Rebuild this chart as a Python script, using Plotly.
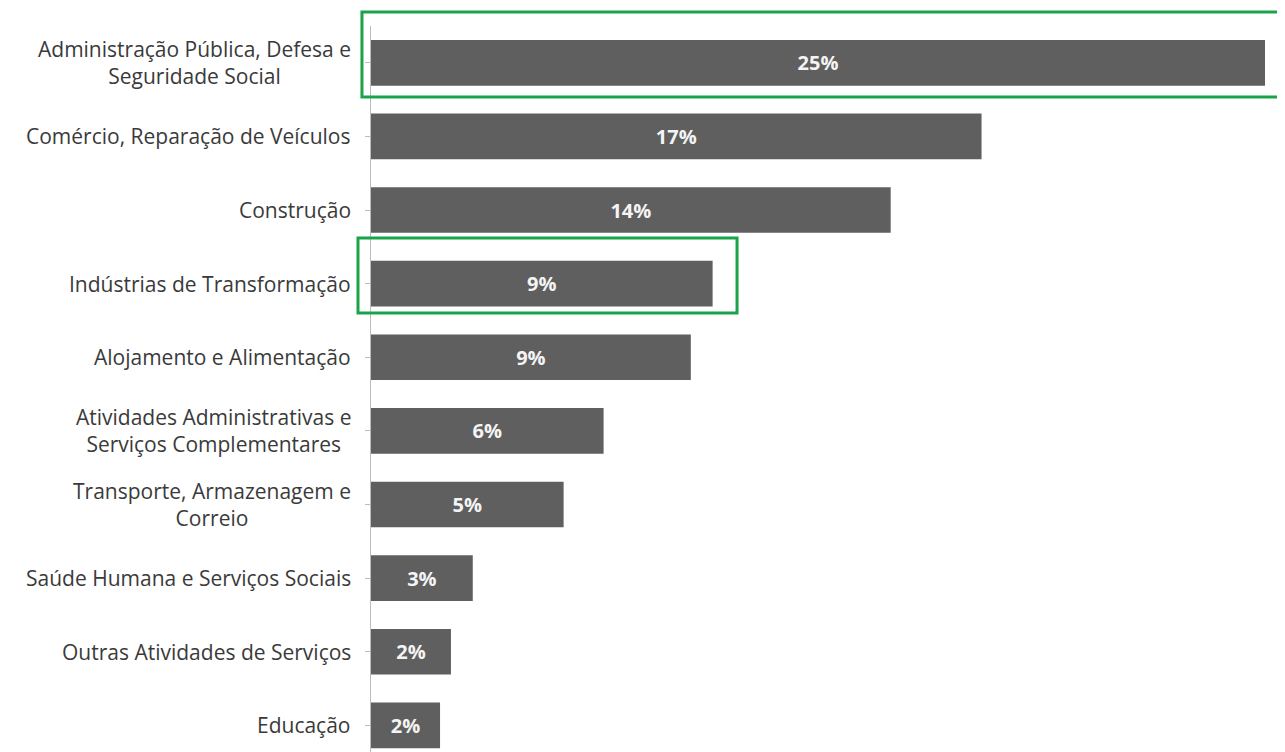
import plotly.graph_objects as go

categories = [
    "Administração Pública, Defesa e<br>Seguridade Social",
    "Comércio, Reparação de Veículos",
    "Construção",
    "Indústrias de Transformação",
    "Alojamento e Alimentação",
    "Atividades Administrativas e<br>Serviços Complementares",
    "Transporte, Armazenagem e<br>Correio",
    "Saúde Humana e Serviços Sociais",
    "Outras Atividades de Serviços",
    "Educação",
]
values = [24.6, 16.8, 14.3, 9.4, 8.8, 6.4, 5.3, 2.8, 2.2, 1.9]
labels = ["25%", "17%", "14%", "9%", "9%", "6%", "5%", "3%", "2%", "2%"]

idx = list(range(len(categories)))

fig = go.Figure(go.Bar(
    x=values,
    y=idx,
    orientation="h",
    marker=dict(color="#5f5f5f", line=dict(width=0)),
    text=labels,
    textposition="inside",
    insidetextanchor="middle",
    textangle=0,
    textfont=dict(family="Open Sans", size=20, color="#f4f4f4", weight="bold"),
    width=0.62,
    hoverinfo="skip",
))

annotations = []
for i, c in zip(idx, categories):
    annotations.append(dict(
        x=-0.0195, xref="paper", y=i, yref="y",
        text=c, showarrow=False, xanchor="right", yanchor="middle",
        align="center", font=dict(family="Open Sans", size=21, color="#3a3a3a"),
    ))

hl = "#1aa34a"
shapes = [
    dict(type="rect", xref="paper", yref="paper", x0=-0.0098, x1=1.03, y0=0.9033, y1=1.019,
         line=dict(color=hl, width=3), fillcolor="rgba(0,0,0,0)", layer="above"),
    dict(type="rect", xref="paper", yref="paper", x0=-0.0141, x1=0.397, y0=0.609, y1=0.7112,
         line=dict(color=hl, width=3), fillcolor="rgba(0,0,0,0)", layer="above"),
]

fig.update_layout(
    width=1285, height=752,
    margin=dict(l=363, r=0, t=18, b=0, pad=0),
    paper_bgcolor="white", plot_bgcolor="white",
    showlegend=False,
    annotations=annotations,
    shapes=shapes,
    xaxis=dict(range=[0, 25.37], visible=False, fixedrange=True),
    yaxis=dict(
        range=[9.47, -0.5],
        tickmode="array", tickvals=idx, showticklabels=False,
        showline=True, linecolor="#bcbcbc", linewidth=1,
        ticks="outside", ticklen=5, tickcolor="#bcbcbc", tickson="boundaries",
        showgrid=False, zeroline=False, fixedrange=True,
    ),
)

fig.write_html("out.html")
